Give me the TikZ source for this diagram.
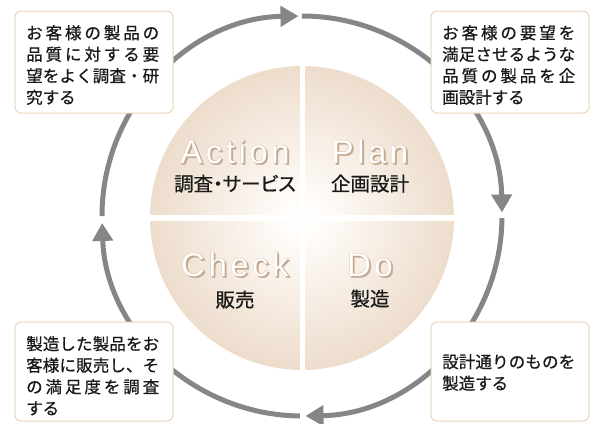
\documentclass[tikz,border=0pt]{standalone}
\usepackage{fontspec}
\setmainfont{Liberation Sans}
\newfontfamily\jpfont[FakeBold=0.7]{Noto Sans CJK JP}
\newfontfamily\jppfont[RawFeature=+palt,FakeBold=0.7]{Noto Sans CJK JP}
\newfontfamily\bigfont{Liberation Sans}
\newfontfamily\bigfatfont[FakeBold=1.1]{Liberation Sans}
\usetikzlibrary{arrows.meta}
\definecolor{ringc}{RGB}{134,134,134}
\definecolor{boxc}{RGB}{236,212,188}
\definecolor{txtc}{RGB}{25,25,25}
\definecolor{outc}{RGB}{200,172,146}
\definecolor{shadc}{RGB}{196,170,146}
\pgfdeclareradialshading{pieshade}{\pgfpoint{0bp}{0bp}}{rgb(0bp)=(1,1,1); rgb(3bp)=(1,0.99,0.98); rgb(25bp)=(0.93,0.865,0.80); rgb(50bp)=(0.855,0.745,0.63)}
% justified line
\def\jlEnd{}
\def\jlA#1{#1\jlB}
\def\jlB#1{\ifx\jlEnd#1\else\hfill#1\expandafter\jlB\fi}
\def\jl#1{\makebox[133pt][s]{\jlA#1\jlEnd}}
% tracked latin
\def\trA#1{#1\trB}
\def\trB#1{\ifx\jlEnd#1\else\kern3.5pt#1\expandafter\trB\fi}
\def\tr#1{\trA#1\jlEnd}
\tikzset{
  ring/.style={draw=ringc, line width=5pt, -{Triangle[length=18pt,width=20pt]}},
  infobox/.style={draw=boxc, fill=white, line width=1pt, rounded corners=6pt},
  boxtxt/.style={anchor=base west, inner sep=0pt, text=txtc, font=\jpfont\fontsize{16.5}{21.5}\selectfont},
  bigtxt/.style={anchor=base, inner sep=0pt, font=\fontsize{33}{36}\selectfont},
  subtxt/.style={anchor=base, inner sep=0pt, text=txtc, font=\jppfont\fontsize{19.5}{22}\selectfont},
}
\newcommand\biglabel[4]{%
  \node[bigtxt, text=shadc] (#1s) at (#2+1.5,#3+1.5) {\bigfatfont\tr{#4}};
  \node[bigtxt, text=outc] (#1o) at (#2,#3) {\bigfatfont\tr{#4}};
  \node[bigtxt, text=white] (#1) at (#2,#3) {\bigfont\tr{#4}};
}
\begin{document}
\begin{tikzpicture}[x=1pt,y=-1pt]
\path[use as bounding box] (0,0) rectangle (591,423);
\coordinate (c) at (302,216);
\coordinate (pc) at (302,218);
% ring arcs (clockwise on screen)
\draw[ring] ([shift={(180:200)}]c) arc[start angle=180, end angle=269, radius=200];
\draw[ring] ([shift={(270:200)}]c) arc[start angle=270, end angle=359, radius=200];
\draw[ring] ([shift={(0.6:200)}]c) arc[start angle=0.6, end angle=89, radius=200];
\draw[ring] ([shift={(90.6:200)}]c) arc[start angle=90.6, end angle=178, radius=200];
% boxes
\path[infobox] (15,11) rectangle (173,113);
\path[infobox] (431,11) rectangle (589,113);
\path[infobox] (15,322) rectangle (173,421);
\path[infobox] (431,322) rectangle (589,421);
\node[boxtxt] (t1) at (26,39) {\parbox[t]{133pt}{\jl{お客様の製品の}\\\jl{品質に対する要}\\\jl{望をよく調査・研}\\究する}};
\node[boxtxt] (t2) at (442,39) {\parbox[t]{133pt}{\jl{お客様の要望を}\\\jl{満足させるような}\\\jl{品質の製品を企}\\画設計する}};
\node[boxtxt] (t3) at (26,350) {\parbox[t]{133pt}{\jl{製造した製品をお}\\\jl{客様に販売し、そ}\\\jl{の満足度を調査}\\する}};
\node[boxtxt] (t4) at (442,368) {\parbox[t]{133pt}{\jl{設計通りのものを}\\製造する}};
% pie
\shade[shading=pieshade] (pc) circle[radius=152];
\draw[white, line width=5pt] (302,62) -- (302,374);
\draw[white, line width=5.5pt] (146,218) -- (458,218);
\biglabel{act}{235}{163}{Action}
\biglabel{pla}{370}{163}{Plan}
\biglabel{che}{235}{276}{Check}
\biglabel{doo}{370}{276}{Do}
\node[subtxt] (s1) at (235,191) {調査・サービス};
\node[subtxt] (s2) at (370,191) {企画設計};
\node[subtxt] (s3) at (235,307) {販売};
\node[subtxt] (s4) at (370,306) {製造};
\end{tikzpicture}
\end{document}
